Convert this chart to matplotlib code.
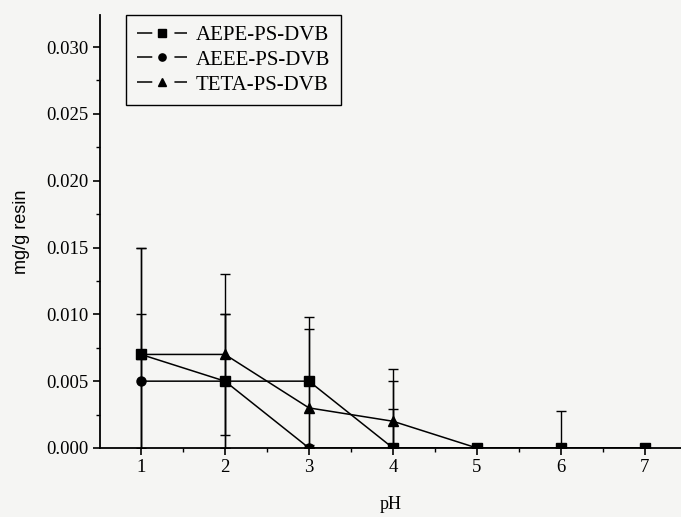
import matplotlib
matplotlib.use("Agg")
import matplotlib.pyplot as plt
from matplotlib.ticker import MultipleLocator, FormatStrFormatter

# data
ph = [1, 2, 3, 4, 5, 6, 7]
aepe = [0.007, 0.005, 0.005, 0.0, 0.0, 0.0, 0.0]
aeee = [0.005, 0.005, 0.0, 0.0, 0.0, 0.0, 0.0]
teta = [0.007, 0.007, 0.003, 0.002, 0.0, 0.0, 0.0]
aepe_err = [0.008, 0.005, 0.0048, 0.005, 0.0, 0.0028, 0.0]
aeee_err = [0.005, 0.005, 0.0, 0.0029, 0.0, 0.0, 0.0]
teta_err = [0.008, 0.006, 0.0059, 0.0039, 0.0, 0.0, 0.0]
labels = ["AEPE-PS-DVB", "AEEE-PS-DVB", "TETA-PS-DVB"]

bg = "#f5f5f3"
serif = ["Liberation Serif", "DejaVu Serif"]

fig = plt.figure(figsize=(6.81, 5.17), dpi=100, facecolor=bg)
ax = fig.add_axes([0.1468, 0.1335, 0.8532, 0.8375])
ax.set_facecolor(bg)

series = [(aepe, aepe_err, "s"), (aeee, aeee_err, "o"), (teta, teta_err, "^")]
for (vals, errs, mk), lab in zip(series, labels):
    ax.errorbar(ph, vals, yerr=errs, fmt="none", ecolor="black",
                elinewidth=1.0, capsize=3.5, capthick=1.0, zorder=2)
    ax.plot(ph, vals, color="black", lw=1.1, marker=mk, markersize=6.5,
            markerfacecolor="black", markeredgecolor="black", label=lab,
            zorder=3)

ax.set_xlim(0.512, 7.43)
ax.set_ylim(0, 0.0324)

for s in ["top", "right"]:
    ax.spines[s].set_visible(False)
for s in ["left", "bottom"]:
    ax.spines[s].set_linewidth(1.3)

ax.xaxis.set_major_locator(MultipleLocator(1))
ax.xaxis.set_minor_locator(MultipleLocator(0.5))
ax.yaxis.set_major_locator(MultipleLocator(0.005))
ax.yaxis.set_minor_locator(MultipleLocator(0.0025))
ax.yaxis.set_major_formatter(FormatStrFormatter("%.3f"))
ax.tick_params(which="major", direction="out", length=5, width=1.2, pad=3)
ax.tick_params(which="minor", direction="out", length=3, width=1.0)
for t in ax.get_xticklabels() + ax.get_yticklabels():
    t.set_family(serif)
    t.set_fontsize(13.5)

ax.set_xlabel("pH", family=serif, fontsize=13, labelpad=14)
ax.set_ylabel("mg/g resin", family=["Liberation Sans", "DejaVu Sans"],
              fontsize=13, labelpad=12)

leg = ax.legend(loc="upper left", bbox_to_anchor=(0.045, 1.0),
                borderaxespad=0, fancybox=False, edgecolor="black",
                framealpha=1, facecolor=bg, prop={"family": serif, "size": 15},
                handlelength=2.4, handletextpad=0.45, labelspacing=0.25,
                borderpad=0.5, markerscale=0.8)
leg.get_frame().set_linewidth(1.0)
for ln in leg.get_lines():
    ln.set_dashes((10, 14.5))

fig.savefig("out.png", dpi=100, facecolor=bg)
